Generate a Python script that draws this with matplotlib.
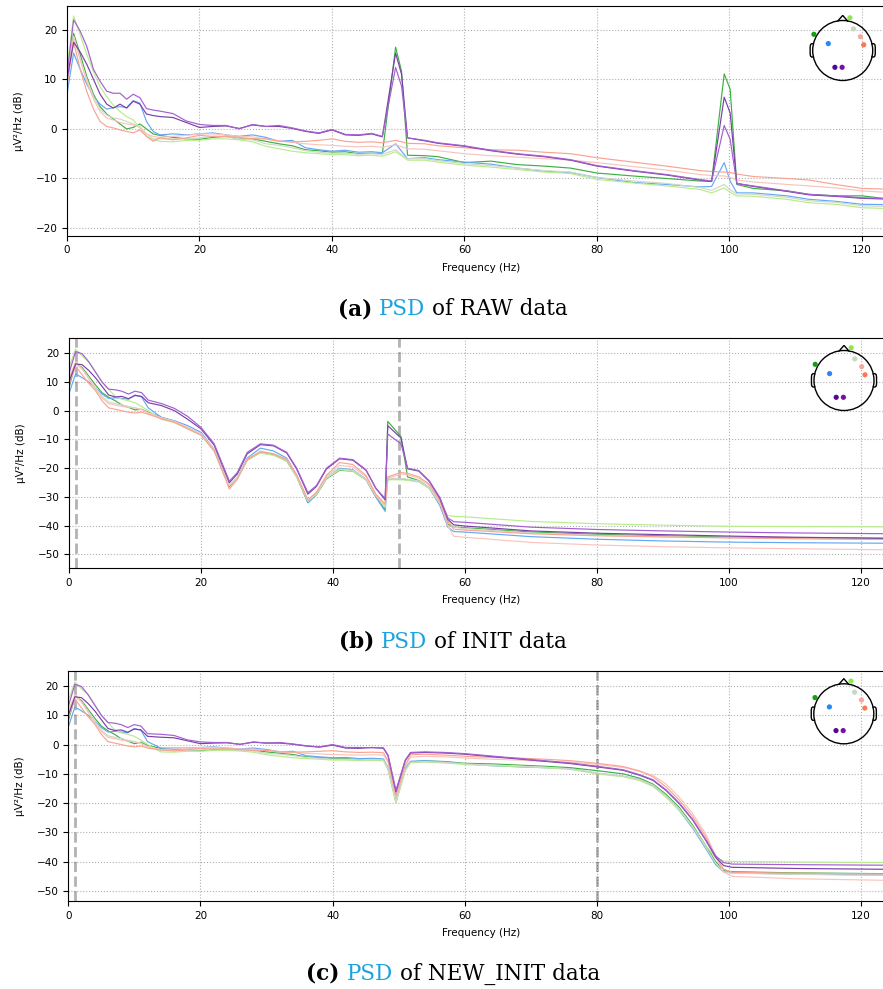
import numpy as np
import matplotlib.pyplot as plt
from matplotlib.patches import Circle

W, H = 883, 989

# line colours follow the sensor colours of the head map
line_colors = ['#3cb043', '#64a8f5', '#b8ec8c', '#d0d8c8', '#fac4bc', '#f9a493', '#7b3fa8', '#a35fd0']
sensor_colors = ['#169c16', '#2a88f0', '#8fe84a', '#c8d8c0', '#f6a8a0', '#f87858', '#54088f', '#7410aa']
sensor_x = [-0.96, -0.48, 0.24, 0.36, 0.59, 0.70, -0.26, -0.02]
sensor_y = [0.54, 0.23, 1.09, 0.72, 0.46, 0.19, -0.56, -0.56]
psd_blue = '#1aa3e0'

# ---- RAW ----
raw_freqs = [0, 1, 2, 3, 4, 5, 6, 7, 8, 9, 10, 11, 12, 13, 14,
             16, 18, 20, 22, 24, 26, 28, 30, 32, 34, 36, 38, 40, 42, 44, 46,
             47.6, 49.6, 50.5, 51.4,
             54, 56, 60, 64, 68, 72, 76, 80,
             85.5, 90.5, 95.5, 97.3, 99.2, 100.1, 101.1,
             103.6, 108.7, 112, 116, 120, 125]
raw_green = [9, 19.3, 15, 10.5, 7, 4.5, 3, 2, 1, 0, 0.3, 1, 0, -1, -1.3,
             -1.7, -2, -2.1, -1.7, -1.5, -2, -2, -2.5, -3, -3.4, -4.2, -4.4, -4.7, -4.6, -5, -4.9,
             -5, 16.5, 11.6, -5.3,
             -5.4, -5.6, -6.8, -6.5, -7.2, -7.5, -7.9, -8.9,
             -9.5, -10, -10.5, -10.6, 11.1, 8, -11.2,
             -12, -12.5, -13.2, -13.5, -13.5, -14.3]
raw_blue = [7, 15.3, 12, 9, 6.5, 5, 4, 4.3, 4.5, 4.3, 5.7, 5.2, 1.5, -0.5, -1.2,
            -1, -1.2, -1, -0.8, -1.2, -1.5, -1.2, -1.7, -2.5, -2.3, -3.8, -4.2, -4.5, -4.3, -4.7, -4.6,
            -4.8, -3, -4.5, -6,
            -5.8, -6.2, -6.7, -7.1, -7.9, -8.5, -8.8, -9.8,
            -10.8, -11.2, -11.7, -11.6, -6.8, -10.5, -12.9,
            -12.9, -13.5, -14.2, -14.6, -15.2, -15.3]
raw_lime = [12, 22.8, 19, 15, 11.5, 8.5, 6.5, 4.8, 3.5, 2.5, 1.8, 0.2, -1.5, -2.2, -2.5,
            -2.6, -2.3, -2.3, -2, -2, -2.2, -2.6, -3.5, -4, -4.5, -4.8, -5, -5.2, -5.2, -5.4, -5.3,
            -5.5, -4.6, -5.4, -6.3,
            -6.3, -6.7, -7.3, -7.7, -8.2, -8.7, -9, -10.2,
            -10.9, -11.5, -12.2, -12.9, -11.9, -12.8, -13.5,
            -13.6, -14.2, -14.9, -15.2, -15.9, -16.1]
raw_pale = [10, 18.5, 14, 10, 6.5, 4, 2.8, 2.2, 2, 1.5, 1, 0.5, -1, -2, -2,
            -2, -2, -1.8, -1.5, -1.6, -2, -2.2, -3, -3.3, -3.8, -4.4, -4.7, -4.9, -4.9, -5.1, -5,
            -5.1, -4.2, -5.2, -6,
            -6, -6.4, -7, -7.4, -7.9, -8.4, -8.7, -9.8,
            -10.5, -11, -11.8, -12.4, -11.2, -12.3, -13.1,
            -13.2, -13.8, -14.5, -14.8, -15.5, -15.7]
raw_pink = [10, 18.7, 14, 9.5, 6, 3.5, 2.2, 1.8, 1.3, 1, 0.8, 0.3, -1, -1.5, -1.7,
            -1.5, -1.3, -1, -1, -1.2, -1.5, -1.6, -2, -2.4, -2.7, -3, -3.2, -3.3, -3.5, -3.6, -3.5,
            -3.7, -3.2, -3.6, -4,
            -4.1, -4.4, -5, -5.4, -5.7, -6, -6.3, -6.8,
            -7.6, -8.3, -9.2, -9.4, -9.5, -9.8, -10.3,
            -10.7, -11.2, -11.5, -11.9, -12.5, -12.9]
raw_salmon = [9, 17.5, 12, 7.5, 4, 1.5, 0.5, 0.2, -0.2, -0.5, -0.8, -0.2, -1.5, -2.5, -1.8,
              -2.2, -1.8, -1.3, -1.5, -1.5, -1.7, -2, -2, -2.5, -2.6, -2.5, -2.3, -2, -2.5, -2.7, -2.6,
              -2.8, -2.3, -2.6, -2.9,
              -3, -3.4, -3.8, -4.2, -4.3, -4.7, -5, -5.8,
              -6.7, -7.5, -8.4, -8.6, -8.7, -8.8, -9.1,
              -9.6, -10, -10.3, -11.2, -12, -12.2]
raw_purple_dark = [10, 17.5, 15.5, 13, 10, 7, 5, 4.2, 5, 4.2, 5.6, 5, 3, 2.7, 2.5,
                   2.3, 1.3, 0.3, 0.5, 0.6, 0.1, 0.8, 0.5, 0.5, 0.1, -0.5, -0.9, -0.2, -1.2, -1.3, -1,
                   -1.6, 15.3, 11, -1.8,
                   -2.4, -2.9, -3.5, -4.4, -5.1, -5.6, -6.3, -7.5,
                   -8.5, -9.3, -10.3, -10.6, 6.4, 3.2, -11,
                   -11.6, -12.6, -13.3, -13.6, -14, -14.2]
raw_purple = [11, 22, 19.7, 16.6, 12, 9.6, 7.6, 7.2, 7.2, 6, 7, 6.3, 4.1, 3.8, 3.6,
              3.1, 1.6, 0.9, 0.7, 0.7, 0, 0.9, 0.5, 0.7, 0.2, -0.4, -0.8, -0.1, -1.1, -1.2, -0.9,
              -1.5, 12.4, 8.6, -1.8,
              -2.3, -2.8, -3.4, -4.3, -5, -5.5, -6.2, -7.4,
              -8.4, -9.2, -10.2, -10.5, 0.7, -2.1, -11,
              -11.5, -12.5, -13.2, -13.5, -13.9, -14.1]

# ---- INIT ----
init_freqs = [0, 1, 2, 3, 4, 5, 6, 7, 8, 9, 10, 11, 12,
              14, 16, 18, 20, 22,
              24.3, 25.5, 27, 29, 31, 33, 34.5, 36.2, 37.5, 39, 41, 43, 45, 46.5, 47.9,
              48.3, 50.3, 51.3,
              53, 54.6, 56.2, 57.4, 58.3, 60,
              70, 80, 90, 100, 110, 125]
init_green = [8, 16.5, 15, 12, 9, 6.3, 4.7, 3.5, 2, 1.2, 0.3, 0.5, -0.5,
              -2.3, -3.7, -6, -8.2, -14,
              -26.5, -23.5, -17.2, -14.5, -15.3, -17.5, -23, -32, -29.2, -23.7, -20.7, -21, -24, -30, -34.5,
              -3.7, -9, -23,
              -24.3, -26.8, -32.6, -39.5, -40.5, -40.7,
              -42.2, -43, -43.5, -44, -44.2, -44.4]
init_blue = [6, 12.8, 11.5, 10, 8, 5.8, 4.3, 4.5, 4.3, 4, 5.5, 4.8, 1,
             -2.3, -3.5, -5.2, -7.5, -13.5,
             -26, -23.3, -16.5, -13, -14, -16.5, -22.5, -32, -29, -23.5, -20, -20.5, -23.8, -30, -35,
             -23.8, -23.8, -24,
             -24.6, -27, -33, -40.5, -42, -42.2,
             -43.8, -44.7, -45.3, -45.7, -45.9, -46.1]
init_lime = [15, 21.4, 19, 17, 13.5, 10, 7.5, 5, 4, 3.5, 2.8, 1.5, 0,
             -3, -4.2, -6.3, -8.5, -14,
             -26, -23.5, -17, -14.7, -15.5, -17.5, -23, -31.5, -29, -23.5, -20.5, -21, -24, -29.5, -33.5,
             -24, -24, -24.2,
             -24.8, -27, -32.3, -36.5, -36.7, -36.9,
             -38.5, -39.3, -39.8, -40.2, -40.3, -40.4]
init_pale = [12, 16.3, 14.5, 11.5, 8, 5, 3, 2.5, 2, 1.5, 1, 0.5, -0.8,
             -2.5, -3.8, -6, -8.3, -13.8,
             -26, -23.3, -17, -14, -15, -17, -22.8, -31.3, -28.8, -23.3, -20.3, -20.7, -23.8, -29.5, -33,
             -23.5, -23.5, -23.8,
             -24.4, -26.8, -32.2, -38.5, -40.5, -41,
             -42.5, -43.3, -43.8, -44.2, -44.5, -44.7]
init_pink = [11, 17, 14.5, 11, 7.5, 4.5, 2.5, 2, 1.5, 1.2, 1, 0.3, -0.8,
             -2.5, -3.7, -5.8, -8, -13.5,
             -27, -23.7, -17, -14.3, -15, -17, -22.5, -31, -28.5, -23, -19, -19.5, -23, -29.5, -33,
             -23.5, -22, -22.3,
             -23.5, -26, -32, -40, -43.7, -44,
             -45.8, -46.7, -47.3, -47.7, -48, -48.4]
init_salmon = [9, 15.5, 12.5, 9.5, 7, 3.5, 1, 0.5, 0, -0.5, -0.8, -0.5, -1.2,
               -2.8, -4, -6.3, -8.5, -13.8,
               -27.2, -23.8, -17, -14.2, -15, -17, -22.3, -31, -28.3, -22.5, -18, -18.7, -22.5, -29, -32.5,
               -23, -21.5, -21.8,
               -23, -25.6, -31.4, -38.5, -41.2, -41.5,
               -42.8, -43.5, -43.9, -44.2, -44.5, -44.8]
init_purple_dark = [10, 16.3, 16, 14, 11.5, 8.5, 5.5, 4.8, 5, 4.2, 5.3, 5, 2.8,
                    1.8, 0, -3, -6.3, -12,
                    -25, -22, -15, -11.8, -12.2, -14.7, -20.3, -29, -26.3, -20.3, -16.7, -17.2, -20.7, -27, -31,
                    -5.2, -9.5, -20.2,
                    -21, -24.6, -30.6, -37.8, -39.7, -40.1,
                    -41.8, -42.6, -43.1, -43.6, -44, -44.4]
init_purple = [13, 20.6, 19.8, 17, 13.5, 10, 7.5, 7.3, 6.8, 5.8, 6.8, 6.3, 3.7,
               2.5, 0.8, -2, -5.8, -11.5,
               -24.5, -21.5, -14.5, -11.5, -12, -14.5, -20, -28.5, -26, -20, -16.5, -17, -20.5, -27, -30.5,
               -8.1, -11.5, -20,
               -20.8, -24.4, -30.2, -37.3, -38.6, -38.8,
               -40.5, -41.3, -41.8, -42.2, -42.5, -42.8]

# ---- NEW_INIT ----
new_freqs = [0, 1, 2, 3, 4, 5, 6, 7, 8, 9, 10, 11, 12,
             14, 16, 18, 20, 22, 24, 26, 28, 30, 32, 34, 36, 38, 40, 42, 44, 46,
             47.7, 48.4, 49.6, 51,
             51.8, 54, 57, 60, 64, 68, 72, 76, 80, 84, 86.5,
             88.5, 90.5, 92.5, 94.5, 96.5, 98, 99.2,
             100.5, 110, 125]
new_green = [8, 16.5, 15, 12, 9, 6.3, 4.7, 3.5, 2, 1.2, 0.3, 0.8, -0.3,
             -1.3, -1.7, -2, -2.1, -1.7, -1.5, -2, -2, -2.5, -3, -3.4, -4.2, -4.4, -4.8, -4.8, -5.1, -5,
             -5.1, -8.2, -19.6, -8.2,
             -5.9, -5.6, -5.8, -6.4, -6.6, -7, -7.4, -7.9, -8.9, -10, -11.5,
             -13.5, -17, -21.5, -27.5, -34.5, -40, -43,
             -43.4, -43.8, -44.1]
new_blue = [6, 12.8, 11.5, 10, 8, 5.8, 4.3, 4.5, 4.3, 4, 5.5, 4.8, 1,
            -1.2, -1.2, -1.2, -1, -0.8, -1.2, -1.5, -1.2, -1.7, -2.5, -2.3, -3.8, -4.2, -4.5, -4.4, -4.8, -4.7,
            -4.9, -8, -19.2, -8.5,
            -5.7, -5.5, -5.9, -6.6, -7.2, -7.6, -7.9, -8.2, -9.8, -10.8, -12,
            -14, -17.5, -22.5, -28.5, -35.5, -41, -43.5,
            -43.8, -44.2, -44.6]
new_lime = [15, 21.4, 19, 17, 13.5, 10, 7.5, 5, 4, 3.5, 2.8, 1.5, 0,
            -2.5, -2.6, -2.3, -2.3, -2, -2, -2.2, -2.6, -3.5, -4, -4.5, -4.8, -5, -5.3, -5.3, -5.5, -5.4,
            -5.5, -8.5, -20, -9,
            -6.2, -6, -6.3, -6.8, -7.2, -7.5, -7.9, -8.5, -10, -11, -12.3,
            -14.3, -18, -22.5, -28, -34.5, -38.5, -39.8,
            -39.9, -40.1, -40.3]
new_pale = [12, 16.3, 14.5, 11.5, 8, 5, 3, 2.5, 2, 1.5, 1, 0.5, -0.8,
            -2, -2, -2, -1.8, -1.5, -1.6, -2, -2.2, -3, -3.3, -3.8, -4.4, -4.7, -5, -5, -5.2, -5.1,
            -5.2, -8.3, -19.5, -8.7,
            -6, -5.8, -6.1, -6.6, -7, -7.3, -7.7, -8.3, -9.7, -10.8, -12,
            -13.8, -17.5, -22, -28, -35, -40.5, -43.5,
            -43.9, -44.3, -44.7]
new_pink = [11, 17, 14.5, 11, 7.5, 4.5, 2.5, 2, 1.5, 1.2, 1, 0.3, -0.8,
            -1.7, -1.5, -1.3, -1, -1, -1.2, -1.5, -1.6, -2, -2.4, -2.7, -3, -3.2, -3.4, -3.5, -3.6, -3.5,
            -3.6, -6, -18, -7.5,
            -4.3, -4, -4.2, -4.6, -5, -5.3, -5.7, -6, -6.8, -7.8, -9.2,
            -10.5, -13.5, -18, -23.5, -30.5, -38, -43.5,
            -45, -45.8, -46.4]
new_salmon = [9, 15.5, 12.5, 9.5, 7, 3.5, 1, 0.5, 0, -0.5, -0.8, -0.5, -1.2,
              -1.8, -2.2, -1.8, -1.3, -1.5, -1.5, -1.7, -2, -2, -2.5, -2.6, -2.5, -2.3, -2.1, -2.5, -2.7, -2.6,
              -2.8, -5.5, -17.5, -7,
              -3.5, -3.3, -3.6, -4, -4.4, -4.6, -5, -5.5, -6.4, -7.5, -9,
              -11, -14.5, -19, -24.5, -31.5, -38.5, -42.5,
              -43.6, -43.9, -44.2]
new_purple_dark = [10, 16.3, 16, 14, 11.5, 8.5, 5.5, 4.8, 5, 4.2, 5.3, 5, 2.8,
                   2.5, 2.3, 1.3, 0.3, 0.5, 0.6, 0.1, 0.8, 0.5, 0.5, 0.1, -0.5, -0.9, -0.2, -1.2, -1.3, -1,
                   -1.3, -3.8, -16.2, -5.5,
                   -2.9, -2.7, -2.9, -3.3, -4.1, -4.9, -5.7, -6.5, -7.6, -8.8, -10.5,
                   -12.2, -15.7, -20.2, -25.7, -32.7, -38.5, -41.3,
                   -41.9, -42.3, -42.6]
new_purple = [13, 20.6, 19.8, 17, 13.5, 10, 7.5, 7.3, 6.8, 5.8, 6.8, 6.3, 3.7,
              3.5, 3.1, 1.6, 0.9, 0.7, 0.7, 0, 0.9, 0.5, 0.7, 0.2, -0.4, -0.8, 0, -1, -1, -1.1,
              -1.1, -3.6, -15.6, -5.3,
              -2.7, -2.5, -2.7, -3.1, -3.9, -4.7, -5.5, -6.3, -7.4, -8.6, -10.3,
              -12, -15.5, -20, -25.5, -32.5, -38, -40.3,
              -40.8, -41, -41.2]

raw_curves = [raw_green, raw_blue, raw_lime, raw_pale, raw_pink, raw_salmon, raw_purple_dark, raw_purple]
init_curves = [init_green, init_blue, init_lime, init_pale, init_pink, init_salmon, init_purple_dark, init_purple]
new_curves = [new_green, new_blue, new_lime, new_pale, new_pink, new_salmon, new_purple_dark, new_purple]

fig = plt.figure(figsize=(W / 100, H / 100), dpi=100)
renderer = fig.canvas.get_renderer()


def head(cx, cy):
    # small sensor map in the upper right corner
    size = 72
    hx = fig.add_axes([(cx - size / 2) / W, 1 - (cy + size / 2) / H, size / W, size / H])
    hx.set_xlim(-1.2, 1.2)
    hx.set_ylim(-1.2, 1.2)
    hx.axis('off')
    hx.add_patch(Circle((0, 0), 1.0, fill=False, lw=1.0, color='k'))
    hx.plot([-0.16, 0, 0.16], [0.987, 1.17, 0.987], color='k', lw=1.0)
    ear_x = np.array([0.98, 1.03, 1.07, 1.085, 1.085, 1.07, 1.03, 0.98])
    ear_y = np.array([0.22, 0.23, 0.2, 0.12, -0.12, -0.19, -0.22, -0.21])
    hx.plot(ear_x, ear_y, color='k', lw=1.0)
    hx.plot(-ear_x, ear_y, color='k', lw=1.0)
    hx.scatter(sensor_x, sensor_y, s=14, c=sensor_colors, zorder=3, linewidths=0)


def panel(left, top, height, px_per_hz, freqs, curves, ylim, vlines, head_c):
    ax = fig.add_axes([left / W, 1 - (top + height) / H, 125 * px_per_hz / W, height / H])
    ax.grid(True, ls=':', color='#b0b0b0', lw=0.8)
    ax.set_axisbelow(True)
    for f in vlines:
        ax.axvline(f, color='k', ls='--', lw=2, alpha=0.3)
    for vals, col in zip(curves, line_colors):
        ax.plot(freqs, vals, color=col, lw=0.85)
    ax.set_xlim(0, 125)
    ax.set_ylim(*ylim)
    ax.set_xticks([0, 20, 40, 60, 80, 100, 120])
    ax.tick_params(labelsize=7.5)
    ax.set_xlabel('Frequency (Hz)', fontsize=7.5, labelpad=5.5)
    ax.set_ylabel('µV²/Hz (dB)', fontsize=7.5, labelpad=8.5)
    head(*head_c)
    return ax


def caption(baseline, tag, name):
    font = 'DejaVu Serif'
    size = 15.5
    pieces = [(tag, 'bold', 'black'), ('PSD', 'normal', psd_blue), ('of ' + name + ' data', 'normal', 'black')]
    texts = [fig.text(0, 1 - baseline / H, s, fontsize=size, family=font, weight=w, color=c, va='baseline')
             for s, w, c in pieces]
    widths = [t.get_window_extent(renderer).width for t in texts]
    a = fig.text(0, 0, 'x x', fontsize=size, family=font).get_window_extent(renderer).width
    b = fig.text(0, 0, 'xx', fontsize=size, family=font).get_window_extent(renderer).width
    fig.texts = fig.texts[:-2]
    gap = a - b
    x = 453 - (sum(widths) + 2 * gap) / 2
    for t, w in zip(texts, widths):
        t.set_x(x / W)
        x += w + gap


panel(67, 6, 229.5, 6.625, raw_freqs, raw_curves, (-21.5, 24.8), [], (842.7, 50.5))
caption(315.5, '(a)', 'RAW')
panel(69, 338.3, 229.7, 6.6, init_freqs, init_curves, (-54.7, 25.2), [1, 50], (844, 380.5))
caption(647.5, '(b)', 'INIT')
panel(68.3, 671, 230, 6.606, new_freqs, new_curves, (-53.4, 25.1), [1, 80], (843.8, 713.8))
caption(979.5, '(c)', 'NEW_INIT')

fig.savefig('out.png', dpi=100)
